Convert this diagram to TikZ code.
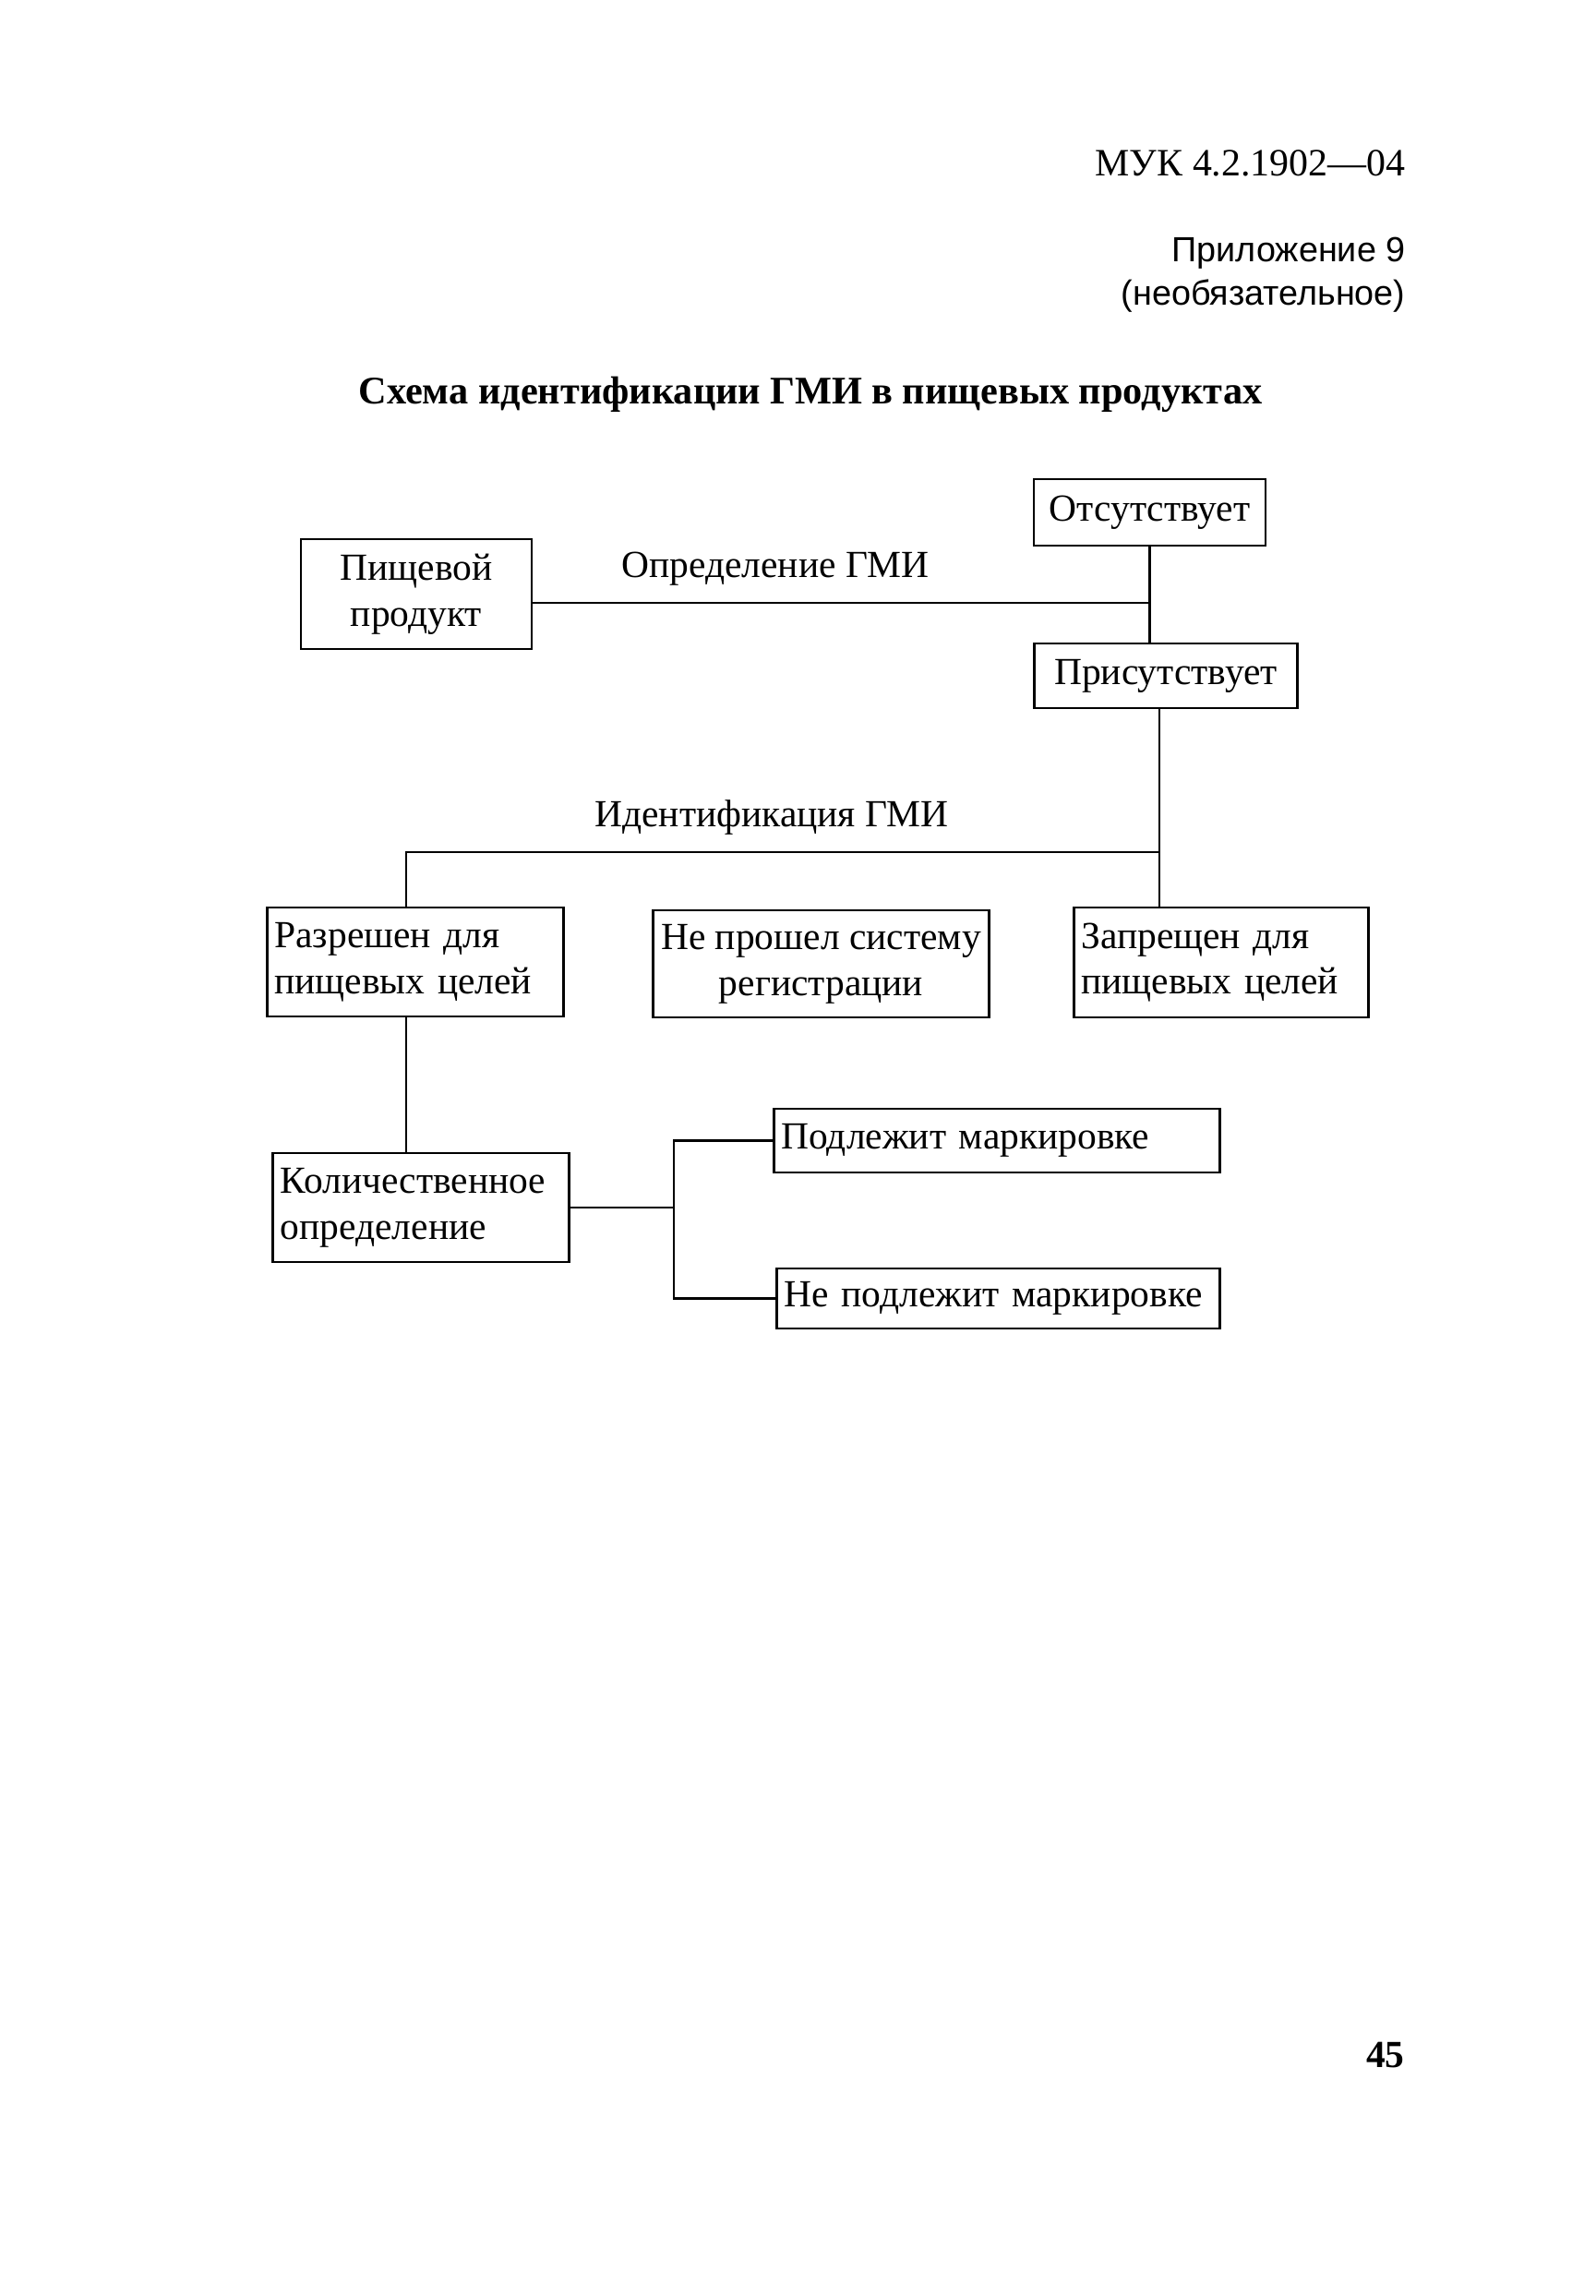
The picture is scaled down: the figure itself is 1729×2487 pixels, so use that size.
\documentclass[tikz,border=0pt]{standalone}
\usepackage{fontspec}
\setmainfont{Liberation Serif}
\newfontfamily\appsans{Liberation Sans}

\begin{document}
\begin{tikzpicture}[x=0.0084667cm, y=-0.0084667cm, line width=0.7pt,
  every node/.style={font=\fontsize{10}{12}\selectfont},
  box/.style={draw, inner sep=2pt, align=center},
  lbox/.style={draw, inner xsep=2pt, inner ysep=0pt, align=left},
  head/.style={anchor=base east, inner sep=0pt}]
\useasboundingbox (0,0) rectangle (1729,2487);
% page head
\node[head, font=\fontsize{10.1}{12}\selectfont] (muk) at (1524,190) {МУК 4.2.1902—04};
\node[head, font=\appsans\fontsize{9.1}{11}\selectfont] (app) at (1524,283) {Приложение 9};
\node[head, font=\appsans\fontsize{9.1}{11}\selectfont] (opt) at (1524,330) {(необязательное)};
\node[anchor=base, inner sep=0pt, font=\bfseries\fontsize{10.2}{12}\selectfont] (title) at (878,437) {Схема идентификации ГМИ в пищевых продуктах};

% boxes
\node[box, minimum width=2.117cm, minimum height=1.008cm] (prod) at (451,643.5) {Пищевой\\продукт};
\node[box, minimum width=2.125cm, minimum height=0.61cm] (otsut) at (1245.5,555) {Отсутствует};
\node[box, minimum width=2.42cm, minimum height=0.593cm] (prisut) at (1263,732) {Присутствует};
\node[lbox, text width=2.585cm, minimum height=0.999cm] (razr) at (450,1042) {Разрешен для\\пищевых целей};
\node[box, minimum width=3.09cm, minimum height=0.982cm] (nereg) at (889.5,1044) {Не прошел систему\\регистрации};
\node[lbox, text width=2.568cm, minimum height=1.008cm] (zapr) at (1323,1042.5) {Запрещен для\\пищевых целей};
\node[lbox, text width=2.577cm, minimum height=0.999cm] (kolich) at (456,1308) {Количественное\\определение};
\node[lbox, text width=3.957cm, minimum height=0.584cm] (podl) at (1080,1235.5) {Подлежит маркировке};
\node[lbox, text width=3.931cm, minimum height=0.55cm] (nepodl) at (1081.5,1406.5) {Не подлежит маркировке};

% labels over the lines
\node[anchor=base] (detlbl) at (840,625) {Определение ГМИ};
\node[anchor=base] (idlbl) at (836,895) {Идентификация ГМИ};

% connectors
\coordinate (jA) at (1247,653);
\coordinate (jB) at (1256,923);
\coordinate (jC) at (440,923);
\coordinate (jD) at (730,1308);
\draw (prod.east |- jA) -- (jA);
\draw (otsut.south) -- (otsut.south |- prisut.north);
\draw (prisut.south -| jB) -- (jB |- zapr.north);
\draw (jB) -- (jC) -- (jC |- razr.north);
\draw (razr.south -| jC) -- (jC |- kolich.north);
\draw (kolich.east) -- (jD);
\draw (podl.west) -| (jD) |- (nepodl.west);

\node[head, font=\bfseries\fontsize{10}{12}\selectfont] (pgno) at (1523,2239) {45};
\end{tikzpicture}
\end{document}
